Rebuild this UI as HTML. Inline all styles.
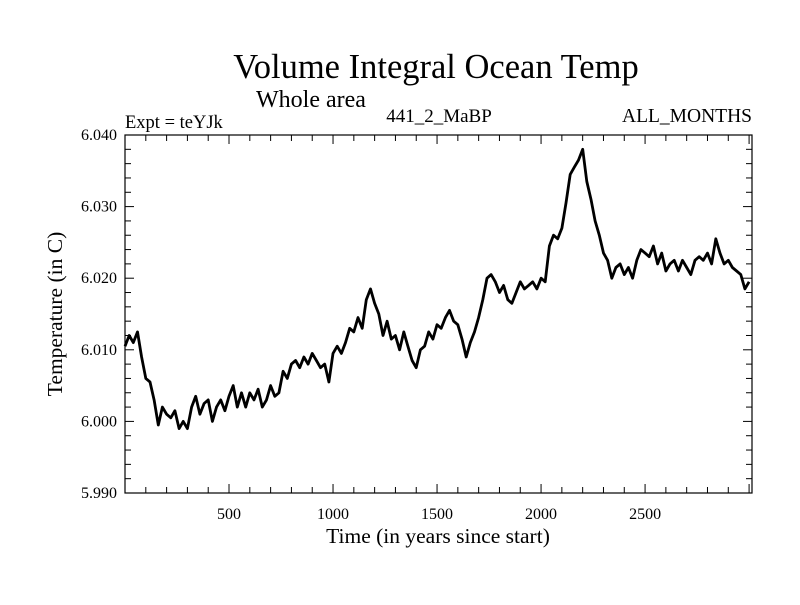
<!DOCTYPE html>
<html><head><meta charset="utf-8"><style>
body{margin:0;background:#fff;}
svg{font-family:"Liberation Serif",serif;}
</style></head><body>
<svg id="chart" width="800" height="600" viewBox="0 0 800 600" xmlns="http://www.w3.org/2000/svg">
<text x="436" y="78" font-size="34.5" text-anchor="middle">Volume Integral Ocean Temp</text>
<text x="256" y="107" font-size="24">Whole area</text>
<text x="125" y="128" font-size="18.5">Expt = teYJk</text>
<text x="439" y="122" font-size="19" text-anchor="middle">441_2_MaBP</text>
<text x="752" y="122" font-size="19.5" text-anchor="end">ALL_MONTHS</text>
<text transform="translate(62,314) rotate(-90)" font-size="21.5" text-anchor="middle">Temperature (in C)</text>
<text x="438" y="543" font-size="21.5" text-anchor="middle">Time (in years since start)</text>
<g id="axes"></g>
<path id="series" fill="none" stroke="#000" stroke-width="2.8" stroke-linejoin="round"/>
<rect x="125" y="135" width="627" height="358" fill="none" stroke="#000" stroke-width="1.2"/>
</svg>
<script>
const years = [0,20,40,60,80,100,120,140,160,180,200,220,240,260,280,300,320,340,360,380,400,420,440,460,480,500,520,540,560,580,600,620,640,660,680,700,720,740,760,780,800,820,840,860,880,900,920,940,960,980,1000,1020,1040,1060,1080,1100,1120,1140,1160,1180,1200,1220,1240,1260,1280,1300,1320,1340,1360,1380,1400,1420,1440,1460,1480,1500,1520,1540,1560,1580,1600,1620,1640,1660,1680,1700,1720,1740,1760,1780,1800,1820,1840,1860,1880,1900,1920,1940,1960,1980,2000,2020,2040,2060,2080,2100,2120,2140,2160,2180,2200,2220,2240,2260,2280,2300,2320,2340,2360,2380,2400,2420,2440,2460,2480,2500,2520,2540,2560,2580,2600,2620,2640,2660,2680,2700,2720,2740,2760,2780,2800,2820,2840,2860,2880,2900,2920,2940,2960,2980,3000];
const temps = [6.0105,6.012,6.011,6.0125,6.009,6.006,6.0055,6.003,5.9995,6.002,6.001,6.0005,6.0015,5.999,6.000,5.999,6.002,6.0035,6.001,6.0025,6.003,6.000,6.002,6.003,6.0015,6.0035,6.005,6.002,6.004,6.002,6.004,6.003,6.0045,6.002,6.003,6.005,6.0035,6.004,6.007,6.006,6.008,6.0085,6.0075,6.009,6.008,6.0095,6.0085,6.0075,6.008,6.0055,6.0095,6.0105,6.0095,6.011,6.013,6.0125,6.0145,6.013,6.017,6.0185,6.0165,6.015,6.012,6.014,6.0115,6.012,6.010,6.0125,6.0105,6.0085,6.0075,6.010,6.0105,6.0125,6.0115,6.0135,6.013,6.0145,6.0155,6.014,6.0135,6.0115,6.009,6.011,6.0125,6.0145,6.017,6.020,6.0205,6.0195,6.018,6.019,6.017,6.0165,6.018,6.0195,6.0185,6.019,6.0195,6.0185,6.020,6.0195,6.0245,6.026,6.0255,6.027,6.0305,6.0345,6.0355,6.0365,6.038,6.0335,6.031,6.028,6.026,6.0235,6.0225,6.020,6.0215,6.022,6.0205,6.0215,6.020,6.0225,6.024,6.0235,6.023,6.0245,6.022,6.0235,6.021,6.022,6.0225,6.021,6.0225,6.0215,6.0205,6.0225,6.023,6.0225,6.0235,6.022,6.0255,6.0235,6.022,6.0225,6.0215,6.021,6.0205,6.0185,6.0195];
const xTickLabels = [500,1000,1500,2000,2500];
const yTickLabels = ["5.990","6.000","6.010","6.020","6.030","6.040"];

const X0=125,X1=752,Y0=493,Y1=135,XMIN=0,XMAX=3014,YMIN=5.990,YMAX=6.040;
const sx=v=>X0+(v-XMIN)/(XMAX-XMIN)*(X1-X0);
const sy=v=>Y0-(v-YMIN)/(YMAX-YMIN)*(Y0-Y1);
const NS="http://www.w3.org/2000/svg";
const axes=document.getElementById('axes');
function line(x1,y1,x2,y2){const l=document.createElementNS(NS,'line');l.setAttribute('x1',x1);l.setAttribute('y1',y1);l.setAttribute('x2',x2);l.setAttribute('y2',y2);l.setAttribute('stroke','#000');l.setAttribute('stroke-width','1');


axes.appendChild(l);}
function txt(x,y,s,anchor,name){const t=document.createElementNS(NS,'text');t.setAttribute('x',x);t.setAttribute('y',y);t.setAttribute('font-size','16');t.setAttribute('text-anchor',anchor);t.textContent=s;


axes.appendChild(t);}
for(let v=100;v<XMAX;v+=100){const x=sx(v);const L=(v%500===0)?9:6;line(x,Y0,x,Y0-L);line(x,Y1,x,Y1+L);}
for(let i=0;i<=25;i++){const v=YMIN+i*0.002;const y=sy(v);const L=(i%5===0)?9:6;line(X0,y,X0+L,y);line(X1,y,X1-L,y);}
xTickLabels.forEach(v=>txt(sx(v),Y0+26,String(v),'middle','x-tick-label'));
yTickLabels.forEach(s=>txt(X0-8,sy(parseFloat(s))+5,s,'end','y-tick-label'));
let d='';years.forEach((yr,i)=>{d+=(i?'L':'M')+sx(yr).toFixed(1)+','+sy(temps[i]).toFixed(1);});
document.getElementById('series').setAttribute('d',d);
</script>
</body></html>
